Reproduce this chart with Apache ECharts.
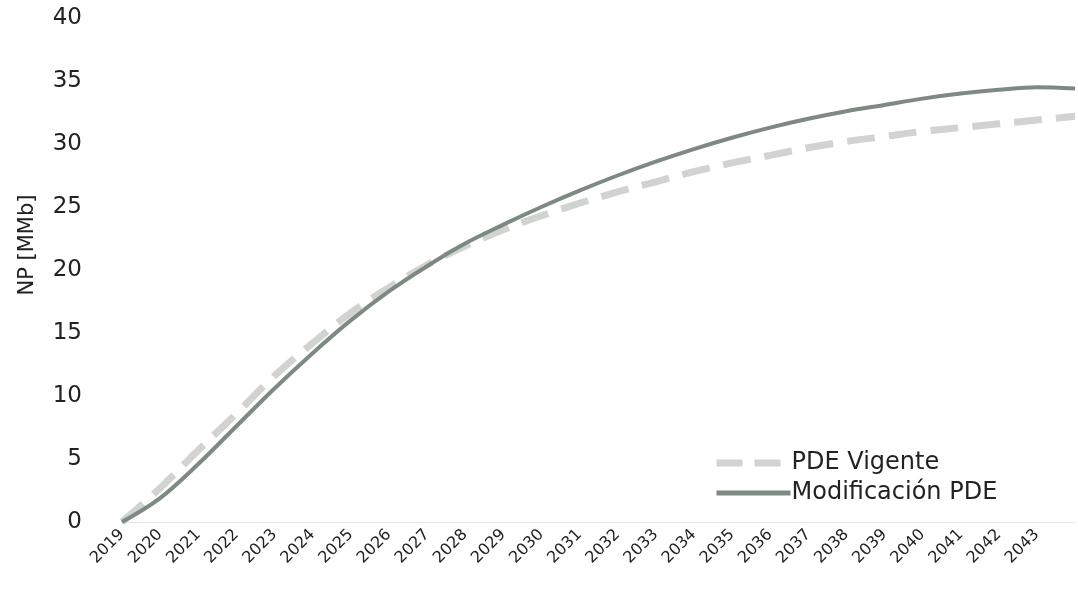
<!DOCTYPE html>
<html>
<head>
<meta charset="utf-8">
<script src="https://cdn.jsdelivr.net/npm/echarts@6/dist/echarts.min.js"></script>
<style>
html,body{margin:0;padding:0;background:#fff;}
#chart{width:1078px;height:592px;}
</style>
</head>
<body>
<div id="chart"></div>
<script>
var years = ['2019','2020','2021','2022','2023','2024','2025','2026','2027','2028','2029','2030','2031','2032','2033','2034','2035','2036','2037','2038','2039','2040','2041','2042','2043','2044'];
var tickLabels = ['2019','2020','2021','2022','2023','2024','2025','2026','2027','2028','2029','2030','2031','2032','2033','2034','2035','2036','2037','2038','2039','2040','2041','2042','2043',''];
var pdeVigente = [0, 2.7, 5.7, 8.6, 11.6, 14.2, 16.6, 18.6, 20.4, 21.9, 23.2, 24.3, 25.3, 26.2, 27.0, 27.8, 28.5, 29.1, 29.7, 30.2, 30.6, 31.0, 31.3, 31.6, 31.9, 32.2];
var modificacion = [0, 1.9, 4.6, 7.6, 10.6, 13.4, 16.0, 18.3, 20.3, 22.1, 23.6, 25.0, 26.3, 27.5, 28.6, 29.6, 30.5, 31.3, 32.0, 32.6, 33.1, 33.6, 34.0, 34.3, 34.5, 34.4];
var yTicks = [0, 5, 10, 15, 20, 25, 30, 35, 40];

var chart = echarts.init(document.getElementById('chart'));
var font = '"DejaVu Sans", "Noto Sans", sans-serif';
chart.setOption({
  animation: false,
  backgroundColor: '#ffffff',
  grid: {left: 122, right: 3, top: 18, bottom: 70, containLabel: false},
  legend: {
    orient: 'vertical',
    left: 708, top: 446,
    itemWidth: 74, itemHeight: 14, itemGap: 6,
    textStyle: {fontFamily: font, fontSize: 24, color: '#222', padding: [0, 0, 0, -4]},
    data: [
      {name: 'PDE Vigente', itemStyle: {opacity: 0}, lineStyle: {width: 7, type: [26, 12], color: '#d0d3d0'}},
      {name: 'Modificación PDE', itemStyle: {opacity: 0}, lineStyle: {width: 5, color: '#7d8a82'}}
    ]
  },
  xAxis: {
    type: 'category',
    data: years,
    boundaryGap: false,
    axisLine: {show: true, lineStyle: {color: '#e6e6e6', width: 1}},
    axisTick: {show: false},
    splitLine: {show: false},
    axisLabel: {
      rotate: 45, interval: 0, margin: 10,
      fontFamily: font, fontSize: 16, color: '#222',
      formatter: function (v, i) { return tickLabels[i]; }
    }
  },
  yAxis: {
    type: 'value',
    min: yTicks[0], max: yTicks[yTicks.length - 1], interval: 5,
    name: 'NP [MMb]',
    nameLocation: 'middle',
    nameGap: 84,
    nameRotate: 90,
    nameTextStyle: {fontFamily: font, fontSize: 21, color: '#222', padding: [0, 0, 0, 50]},
    axisLine: {show: false},
    axisTick: {show: false},
    splitLine: {show: false},
    axisLabel: {margin: 40, fontFamily: font, fontSize: 23, color: '#222'}
  },
  series: [
    {
      name: 'PDE Vigente',
      type: 'line',
      data: pdeVigente,
      smooth: 0.35,
      symbol: 'none',
      lineStyle: {color: '#d0d3d0', width: 7, type: [28, 14]},
      itemStyle: {color: '#d0d3d0'},
      z: 2
    },
    {
      name: 'Modificación PDE',
      type: 'line',
      data: modificacion,
      smooth: 0.35,
      symbol: 'none',
      lineStyle: {color: '#7d8a82', width: 4},
      itemStyle: {color: '#7d8a82'},
      z: 3
    }
  ]
});
</script>
</body>
</html>
